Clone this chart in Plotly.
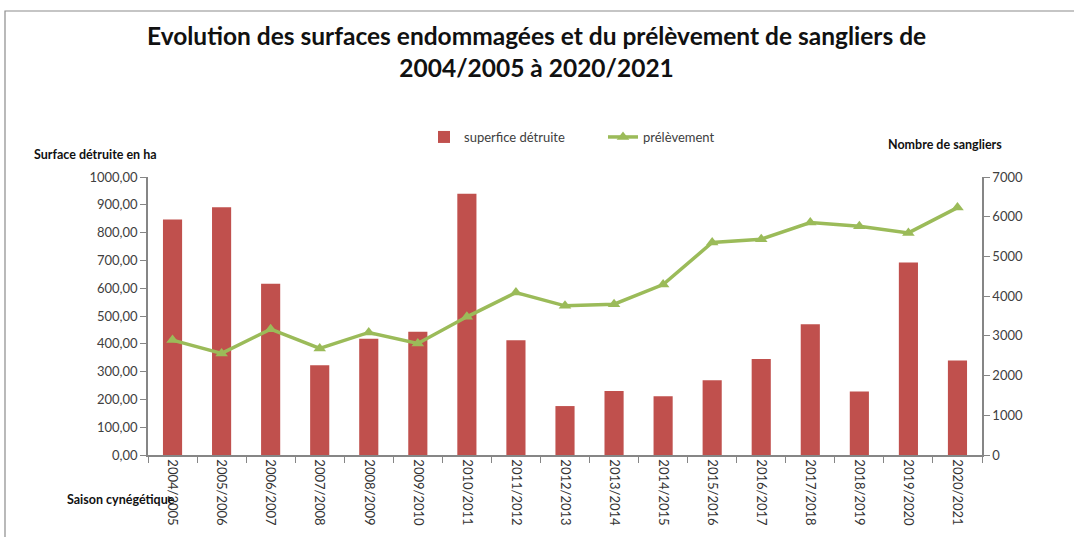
import plotly.graph_objects as go

seasons = ["2004/2005", "2005/2006", "2006/2007", "2007/2008", "2008/2009", "2009/2010",
           "2010/2011", "2011/2012", "2012/2013", "2013/2014", "2014/2015", "2015/2016",
           "2016/2017", "2017/2018", "2018/2019", "2019/2020", "2020/2021"]
surface_ha = [847, 891, 616, 323, 418, 443, 940, 413, 176, 230, 211, 269, 345, 470, 228, 692, 340]
prelevement = [2893, 2558, 3169, 2683, 3086, 2809, 3479, 4092, 3756, 3798, 4293, 5350, 5433,
               5852, 5760, 5592, 6230]
left_ticks = [0, 100, 200, 300, 400, 500, 600, 700, 800, 900, 1000]
left_ticktext = [f"{v},00" for v in left_ticks]
right_ticks = [0, 1000, 2000, 3000, 4000, 5000, 6000, 7000]

FONT = "Lato, 'Open Sans', sans-serif"
BAR = "#C0504D"
LINE = "#9BBB59"
AX = "#868686"

L, R, T, B = 148, 92, 177, 82
W, H = 1074, 537
plot_w = W - L - R
plot_h = H - T - B


def px(x):
    return (x - L) / plot_w


def py(y):
    return (H - B - y) / plot_h


fig = go.Figure()
fig.add_trace(go.Bar(x=seasons, y=surface_ha, name="superfice détruite",
                     marker=dict(color=BAR, line=dict(width=0)), yaxis="y"))
fig.add_trace(go.Scatter(x=seasons, y=prelevement, name="prélèvement", mode="lines+markers",
                         line=dict(color=LINE, width=3.5),
                         marker=dict(symbol="triangle-up", size=11, color=LINE),
                         yaxis="y2"))

fig.update_layout(
    width=W, height=H,
    margin=dict(l=L, r=R, t=T, b=B, autoexpand=False),
    paper_bgcolor="white", plot_bgcolor="white",
    font=dict(family=FONT, size=13, color="#404040"),
    bargap=0.61,
    showlegend=True,
    legend=dict(orientation="h", x=px(424), y=py(137), xref="paper", yref="paper",
                xanchor="left", yanchor="middle", font=dict(size=13, color="#404040"),
                tracegroupgap=0, entrywidth=134, entrywidthmode="pixels",
                bgcolor="rgba(0,0,0,0)"),
    xaxis=dict(type="category", tickangle=90, showline=True, linecolor=AX, linewidth=1.5,
               ticks="outside", tickson="boundaries", ticklen=6, tickcolor=AX,
               tickfont=dict(size=13, color="#333333"), showgrid=False, zeroline=False,
               range=[-0.5, len(seasons) - 0.5], automargin=False),
    yaxis=dict(range=[0, 1000], tickvals=left_ticks, ticktext=left_ticktext,
               showline=True, linecolor=AX, linewidth=1.5, ticks="outside", ticklen=6,
               tickcolor=AX, showgrid=False, zeroline=False, automargin=False,
               tickfont=dict(size=13, color="#404040")),
    yaxis2=dict(range=[0, 7000], tickvals=right_ticks, overlaying="y", side="right",
                showline=True, linecolor=AX, linewidth=1.5, ticks="outside", ticklen=6,
                tickcolor=AX, showgrid=False, zeroline=False, automargin=False,
                tickfont=dict(size=13, color="#404040")),
)

fig.add_annotation(text="<b>Evolution des surfaces endommagées et du prélèvement de sangliers de<br>2004/2005 à 2020/2021</b>",
                   x=px(536), y=py(52), xref="paper", yref="paper", showarrow=False,
                   xanchor="center", yanchor="middle",
                   font=dict(size=24.5, color="#111111", family=FONT), align="center")

fig.add_annotation(text="<b>Surface détruite en ha</b>", x=px(32), y=py(154), xref="paper", yref="paper",
                   xanchor="left", yanchor="middle", showarrow=False,
                   font=dict(size=12.5, color="#111111"))
fig.add_annotation(text="<b>Nombre de sangliers</b>", x=px(886), y=py(144), xref="paper", yref="paper",
                   xanchor="left", yanchor="middle", showarrow=False,
                   font=dict(size=12.5, color="#111111"))
fig.add_annotation(text="<b>Saison cynégétique</b>", x=px(65), y=py(500), xref="paper", yref="paper",
                   xanchor="left", yanchor="middle", showarrow=False,
                   font=dict(size=12.5, color="#111111"))

fig.add_shape(type="rect", xref="paper", yref="paper", x0=px(5), x1=px(1080), y0=py(545), y1=py(11),
              line=dict(color="#8C8C8C", width=1.2), fillcolor="rgba(0,0,0,0)", layer="below")

fig.write_html("out.html", config={"displayModeBar": False},
               post_script="document.body.style.margin='0';document.body.style.overflow='hidden';")
